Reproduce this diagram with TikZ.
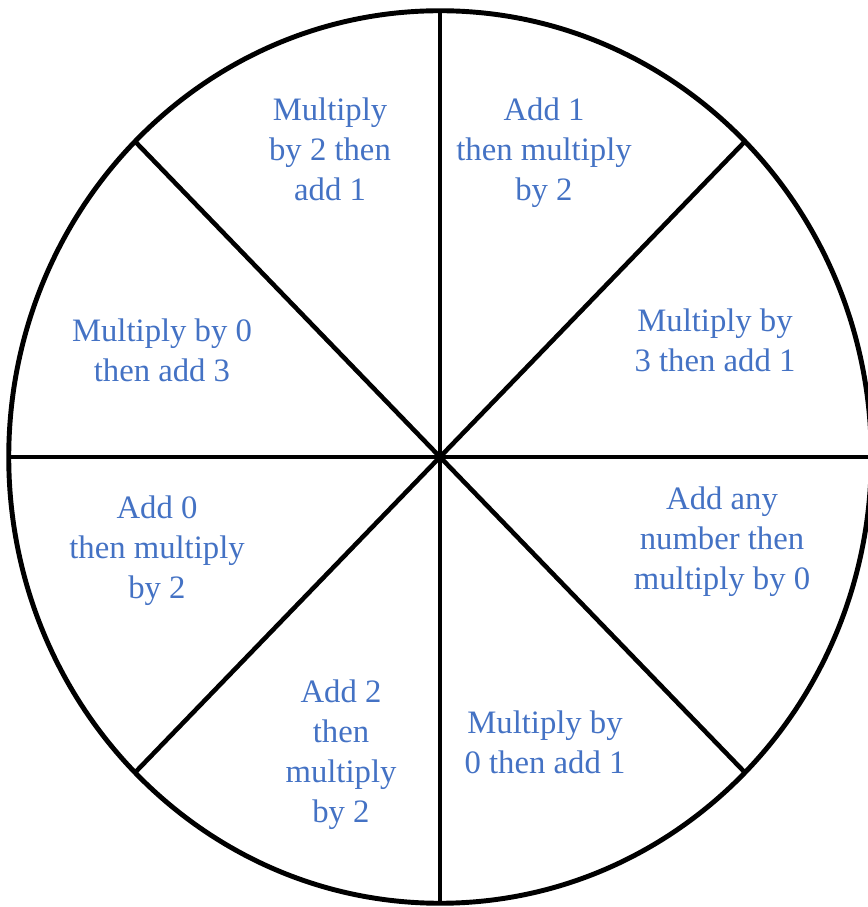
\documentclass[tikz,border=0pt]{standalone}
\usepackage{fontspec}
\setmainfont{Liberation Serif}
\definecolor{textblue}{HTML}{4472C4}
\tikzset{
  rim/.style={line width=1.4pt},
  spoke/.style={line width=1.3pt},
  sectortext/.style={text=textblue, align=center, inner sep=0pt,
    font=\fontsize{9.3pt}{11.4pt}\selectfont}
}
\begin{document}
\begin{tikzpicture}[x=0.01cm,y=0.01cm]
\useasboundingbox (-440,-450) rectangle (427,457);

% wheel
\coordinate (c) at (0,0);
\draw[rim] (c) ellipse [x radius=4.31cm, y radius=4.46cm];
\foreach \a in {0,45,...,315}{
  \coordinate (r\a) at (\a:431 and 446);
  \draw[spoke] (c) -- (r\a);
}

% sector texts
\node[sectortext] (nnw) at (-110,308) {Multiply\\by 2 then\\add 1};
\node[sectortext] (nne) at (104,304) {Add 1\\then multiply\\by 2};
\node[sectortext] (ene) at (275,117) {Multiply by\\3 then add 1};
\node[sectortext] (ese) at (282,-85) {Add any\\number then\\multiply by 0};
\node[sectortext] (sse) at (105,-285) {Multiply by\\0 then add 1};
\node[sectortext] (ssw) at (-99,-298) {Add 2\\then\\multiply\\by 2};
\node[sectortext] (wsw) at (-283,-94) {Add 0\\then multiply\\by 2};
\node[sectortext] (wnw) at (-278,107) {Multiply by 0\\then add 3};
\end{tikzpicture}
\end{document}
